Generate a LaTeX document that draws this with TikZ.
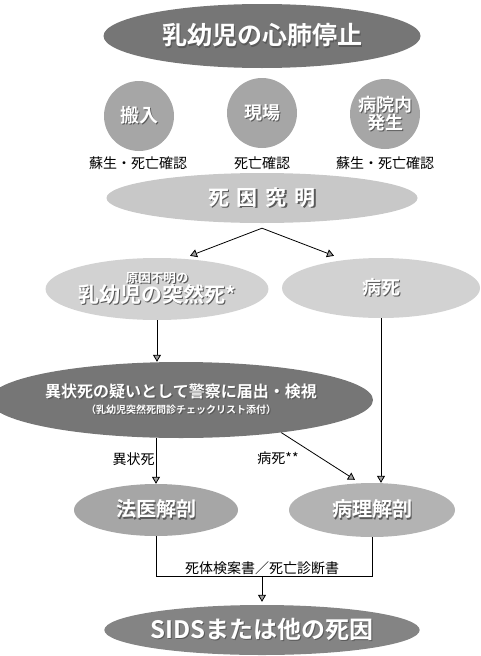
\documentclass[tikz,border=0pt]{standalone}
\usepackage{fontspec}
\setmainfont{Noto Sans CJK JP}[BoldFont={Noto Sans CJK JP Bold}]
\usetikzlibrary{shapes.geometric,arrows.meta}
\definecolor{gdark}{HTML}{767676}
\definecolor{gmid}{HTML}{A6A6A6}
\definecolor{glight}{HTML}{C8C8C8}
\definecolor{gpale}{HTML}{D2D2D2}
\newcommand\sh[1]{\leavevmode\rlap{\hspace{1.3pt}\raisebox{-1.3pt}{\color{black!65}#1}}#1}
\tikzset{
  oval/.style={ellipse,inner sep=0pt,text=white,font=\bfseries,align=center},
  roundel/.style={circle,inner sep=0pt,minimum size=70pt,fill=gmid,text=white,font=\bfseries\fontsize{19}{20}\selectfont,align=center},
  caption/.style={inner sep=1pt,font=\fontsize{14}{16}\selectfont},
  conn/.style={draw=black,line width=0.8pt},
  arr/.style={conn,-{Triangle[width=8pt,length=7pt,fill=gray!75]}}
}
\begin{document}
\begin{tikzpicture}[x=1pt,y=-1pt]
\useasboundingbox (0,0) rectangle (480,656);
% nodes
\node[oval,fill=gdark,minimum width=317pt,minimum height=64pt,font=\bfseries\fontsize{25}{26}\selectfont] (top) at (262,36) {\sh{乳幼児の心肺停止}};
\node[roundel] (c1) at (139,116) {\sh{搬入}};
\node[roundel,font=\bfseries\fontsize{18}{18}\selectfont] (c2) at (262,113) {\sh{現場}};
\node[roundel,font=\bfseries\fontsize{18}{18}\selectfont] (c3) at (385,114) {\sh{病院内}\\[-1pt]\sh{発生}};
\node[caption] (l1) at (138,163) {蘇生・死亡確認};
\node[caption] (l2) at (262,163) {死亡確認};
\node[caption] (l3) at (385,163) {蘇生・死亡確認};
\node[oval,fill=glight,minimum width=311pt,minimum height=50pt,font=\bfseries\fontsize{21}{22}\selectfont] (cause) at (262,198) {\sh{死\hspace{8pt}因\hspace{8pt}究\hspace{8pt}明}};
\node[oval,fill=gpale,minimum width=200pt,minimum height=62pt,font=\bfseries\fontsize{21}{22}\selectfont] (unk) at (157,289) {{\fontsize{12.5}{13}\selectfont\sh{原因不明の}}\\[-2pt]\sh{乳幼児の突然死*}};
\node[oval,fill=gpale,minimum width=198pt,minimum height=60pt,font=\bfseries\fontsize{19}{20}\selectfont] (ill) at (381,288) {\sh{病死}};
\node[oval,fill=gdark,minimum width=348pt,minimum height=76pt,font=\bfseries\fontsize{16}{17}\selectfont] (abn) at (181,400) {\sh{異状死の疑いとして警察に届出・検視}\\[-1pt]{\fontsize{10}{11}\selectfont\sh{（乳幼児突然死問診チェックリスト添付）}}};
\node[oval,fill=gmid,minimum width=164pt,minimum height=52pt,font=\bfseries\fontsize{20}{21}\selectfont] (foren) at (156,510) {\sh{法医解剖}};
\node[oval,fill=gmid!85,minimum width=166pt,minimum height=54pt,font=\bfseries\fontsize{20}{21}\selectfont] (path) at (372,510) {\sh{病理解剖}};
\node[oval,fill=gdark!90,minimum width=315pt,minimum height=50pt,font=\bfseries\fontsize{24}{25}\selectfont] (sids) at (262,630) {\sh{SIDSまたは他の死因}};
% connectors
\coordinate (split) at ([yshift=-5pt]cause.south);
\draw[arr] (split) -- ([xshift=33pt,yshift=2pt]unk.north);
\draw[arr] (split) -- ([xshift=-47pt,yshift=2pt]ill.north);
\draw[arr] (unk.south) -- (unk.south |- abn.north);
\draw[arr] (ill.south) -- (ill.south |- path.north);
\draw[arr] (abn.south -| foren.north) -- node[caption,left,pos=0.45] {異状死} (foren.north);
\draw[arr] (abn.-18) -- ([xshift=-17pt,yshift=3pt]path.north);
\node[caption] (lb2) at (278,458) {病死**};
\coordinate (join) at (262,576);
\draw[conn] (foren.south) -- (foren.south |- join) -- (path.south |- join) -- (path.south);
\node[caption,above] (lb3) at (join) {死体検案書／死亡診断書};
\draw[arr] (join) -- ([yshift=3pt]sids.north);
\end{tikzpicture}
\end{document}
